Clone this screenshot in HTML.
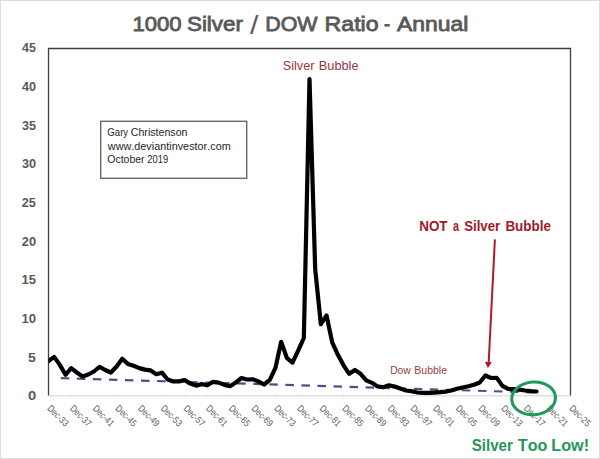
<!DOCTYPE html><html><head><meta charset="utf-8"><style>html,body{margin:0;padding:0;background:#fff;}svg{display:block;}text{font-kerning:none;}</style></head><body>
<svg width="600" height="459" viewBox="0 0 600 459" font-family="'Liberation Sans', Arial, sans-serif">
<rect x="0" y="0" width="600" height="459" fill="#ffffff"/>
<rect x="0.5" y="0.5" width="599" height="458" fill="none" stroke="#dcdcdc" stroke-width="1"/>
<text x="250.00" y="33.50" font-size="25.5" fill="#595959" textLength="8.40" lengthAdjust="spacingAndGlyphs">/</text>
<text x="383.88" y="31.20" font-size="20.0" fill="#595959" textLength="6.14" lengthAdjust="spacingAndGlyphs" stroke="#595959" stroke-width="0.8">-</text>
<text x="132.52" y="30.60" font-size="20.0" fill="#595959" textLength="49.15" lengthAdjust="spacingAndGlyphs" stroke="#595959" stroke-width="0.8">1000</text>
<text x="186.99" y="30.60" font-size="20.0" fill="#595959" textLength="55.89" lengthAdjust="spacingAndGlyphs" stroke="#595959" stroke-width="0.8">Silver</text>
<text x="265.24" y="30.60" font-size="20.0" fill="#595959" textLength="52.33" lengthAdjust="spacingAndGlyphs" stroke="#595959" stroke-width="0.8">DOW</text>
<text x="324.60" y="30.60" font-size="20.0" fill="#595959" textLength="53.97" lengthAdjust="spacingAndGlyphs" stroke="#595959" stroke-width="0.8">Ratio</text>
<text x="396.96" y="30.60" font-size="20.0" fill="#595959" textLength="71.28" lengthAdjust="spacingAndGlyphs" stroke="#595959" stroke-width="0.8">Annual</text>
<line x1="48.5" y1="395.8" x2="570.5" y2="395.8" stroke="#e0e0e0" stroke-width="1.6"/>
<line x1="71.20" y1="396.5" x2="71.20" y2="398.8" stroke="#ececec" stroke-width="1"/>
<line x1="93.89" y1="396.5" x2="93.89" y2="398.8" stroke="#ececec" stroke-width="1"/>
<line x1="116.59" y1="396.5" x2="116.59" y2="398.8" stroke="#ececec" stroke-width="1"/>
<line x1="139.28" y1="396.5" x2="139.28" y2="398.8" stroke="#ececec" stroke-width="1"/>
<line x1="161.98" y1="396.5" x2="161.98" y2="398.8" stroke="#ececec" stroke-width="1"/>
<line x1="184.67" y1="396.5" x2="184.67" y2="398.8" stroke="#ececec" stroke-width="1"/>
<line x1="207.37" y1="396.5" x2="207.37" y2="398.8" stroke="#ececec" stroke-width="1"/>
<line x1="230.07" y1="396.5" x2="230.07" y2="398.8" stroke="#ececec" stroke-width="1"/>
<line x1="252.76" y1="396.5" x2="252.76" y2="398.8" stroke="#ececec" stroke-width="1"/>
<line x1="275.46" y1="396.5" x2="275.46" y2="398.8" stroke="#ececec" stroke-width="1"/>
<line x1="298.15" y1="396.5" x2="298.15" y2="398.8" stroke="#ececec" stroke-width="1"/>
<line x1="320.85" y1="396.5" x2="320.85" y2="398.8" stroke="#ececec" stroke-width="1"/>
<line x1="343.54" y1="396.5" x2="343.54" y2="398.8" stroke="#ececec" stroke-width="1"/>
<line x1="366.24" y1="396.5" x2="366.24" y2="398.8" stroke="#ececec" stroke-width="1"/>
<line x1="388.93" y1="396.5" x2="388.93" y2="398.8" stroke="#ececec" stroke-width="1"/>
<line x1="411.63" y1="396.5" x2="411.63" y2="398.8" stroke="#ececec" stroke-width="1"/>
<line x1="434.33" y1="396.5" x2="434.33" y2="398.8" stroke="#ececec" stroke-width="1"/>
<line x1="457.02" y1="396.5" x2="457.02" y2="398.8" stroke="#ececec" stroke-width="1"/>
<line x1="479.72" y1="396.5" x2="479.72" y2="398.8" stroke="#ececec" stroke-width="1"/>
<line x1="502.41" y1="396.5" x2="502.41" y2="398.8" stroke="#ececec" stroke-width="1"/>
<line x1="525.11" y1="396.5" x2="525.11" y2="398.8" stroke="#ececec" stroke-width="1"/>
<line x1="547.80" y1="396.5" x2="547.80" y2="398.8" stroke="#ececec" stroke-width="1"/>
<line x1="570.50" y1="396.5" x2="570.50" y2="398.8" stroke="#ececec" stroke-width="1"/>
<path d="M48.5,395.5 V48.5 H570.5 V395.5" fill="none" stroke="#404040" stroke-width="1.3"/>
<text x="27.97" y="400.40" font-size="12.9" font-weight="bold" fill="#595959" textLength="8.19" lengthAdjust="spacingAndGlyphs">0</text>
<text x="28.12" y="361.72" font-size="12.9" font-weight="bold" fill="#595959" textLength="7.82" lengthAdjust="spacingAndGlyphs">5</text>
<text x="21.42" y="323.05" font-size="12.9" font-weight="bold" fill="#595959" textLength="14.67" lengthAdjust="spacingAndGlyphs">10</text>
<text x="21.43" y="284.38" font-size="12.9" font-weight="bold" fill="#595959" textLength="14.48" lengthAdjust="spacingAndGlyphs">15</text>
<text x="21.81" y="245.70" font-size="12.9" font-weight="bold" fill="#595959" textLength="14.27" lengthAdjust="spacingAndGlyphs">20</text>
<text x="21.81" y="207.02" font-size="12.9" font-weight="bold" fill="#595959" textLength="14.09" lengthAdjust="spacingAndGlyphs">25</text>
<text x="21.96" y="168.35" font-size="12.9" font-weight="bold" fill="#595959" textLength="14.11" lengthAdjust="spacingAndGlyphs">30</text>
<text x="21.96" y="129.67" font-size="12.9" font-weight="bold" fill="#595959" textLength="13.94" lengthAdjust="spacingAndGlyphs">35</text>
<text x="22.06" y="91.00" font-size="12.9" font-weight="bold" fill="#595959" textLength="14.01" lengthAdjust="spacingAndGlyphs">40</text>
<text x="22.06" y="52.32" font-size="12.9" font-weight="bold" fill="#595959" textLength="13.83" lengthAdjust="spacingAndGlyphs">45</text>
<text transform="translate(47.20,409.4) rotate(45)" x="-0.65" y="0" font-size="9.5" fill="#595959" textLength="25.60" lengthAdjust="spacingAndGlyphs">Dec-33</text>
<text transform="translate(69.90,409.4) rotate(45)" x="-0.65" y="0" font-size="9.5" fill="#595959" textLength="25.65" lengthAdjust="spacingAndGlyphs">Dec-37</text>
<text transform="translate(92.59,409.4) rotate(45)" x="-0.65" y="0" font-size="9.5" fill="#595959" textLength="25.64" lengthAdjust="spacingAndGlyphs">Dec-41</text>
<text transform="translate(115.29,409.4) rotate(45)" x="-0.65" y="0" font-size="9.5" fill="#595959" textLength="25.58" lengthAdjust="spacingAndGlyphs">Dec-45</text>
<text transform="translate(137.98,409.4) rotate(45)" x="-0.65" y="0" font-size="9.5" fill="#595959" textLength="25.63" lengthAdjust="spacingAndGlyphs">Dec-49</text>
<text transform="translate(160.68,409.4) rotate(45)" x="-0.65" y="0" font-size="9.5" fill="#595959" textLength="25.60" lengthAdjust="spacingAndGlyphs">Dec-53</text>
<text transform="translate(183.37,409.4) rotate(45)" x="-0.65" y="0" font-size="9.5" fill="#595959" textLength="25.65" lengthAdjust="spacingAndGlyphs">Dec-57</text>
<text transform="translate(206.07,409.4) rotate(45)" x="-0.65" y="0" font-size="9.5" fill="#595959" textLength="25.64" lengthAdjust="spacingAndGlyphs">Dec-61</text>
<text transform="translate(228.77,409.4) rotate(45)" x="-0.65" y="0" font-size="9.5" fill="#595959" textLength="25.58" lengthAdjust="spacingAndGlyphs">Dec-65</text>
<text transform="translate(251.46,409.4) rotate(45)" x="-0.65" y="0" font-size="9.5" fill="#595959" textLength="25.63" lengthAdjust="spacingAndGlyphs">Dec-69</text>
<text transform="translate(274.16,409.4) rotate(45)" x="-0.65" y="0" font-size="9.5" fill="#595959" textLength="25.60" lengthAdjust="spacingAndGlyphs">Dec-73</text>
<text transform="translate(296.85,409.4) rotate(45)" x="-0.65" y="0" font-size="9.5" fill="#595959" textLength="25.65" lengthAdjust="spacingAndGlyphs">Dec-77</text>
<text transform="translate(319.55,409.4) rotate(45)" x="-0.65" y="0" font-size="9.5" fill="#595959" textLength="25.64" lengthAdjust="spacingAndGlyphs">Dec-81</text>
<text transform="translate(342.24,409.4) rotate(45)" x="-0.65" y="0" font-size="9.5" fill="#595959" textLength="25.58" lengthAdjust="spacingAndGlyphs">Dec-85</text>
<text transform="translate(364.94,409.4) rotate(45)" x="-0.65" y="0" font-size="9.5" fill="#595959" textLength="25.63" lengthAdjust="spacingAndGlyphs">Dec-89</text>
<text transform="translate(387.63,409.4) rotate(45)" x="-0.65" y="0" font-size="9.5" fill="#595959" textLength="25.60" lengthAdjust="spacingAndGlyphs">Dec-93</text>
<text transform="translate(410.33,409.4) rotate(45)" x="-0.65" y="0" font-size="9.5" fill="#595959" textLength="25.65" lengthAdjust="spacingAndGlyphs">Dec-97</text>
<text transform="translate(433.03,409.4) rotate(45)" x="-0.65" y="0" font-size="9.5" fill="#595959" textLength="25.64" lengthAdjust="spacingAndGlyphs">Dec-01</text>
<text transform="translate(455.72,409.4) rotate(45)" x="-0.65" y="0" font-size="9.5" fill="#595959" textLength="25.58" lengthAdjust="spacingAndGlyphs">Dec-05</text>
<text transform="translate(478.42,409.4) rotate(45)" x="-0.65" y="0" font-size="9.5" fill="#595959" textLength="25.63" lengthAdjust="spacingAndGlyphs">Dec-09</text>
<text transform="translate(501.11,409.4) rotate(45)" x="-0.65" y="0" font-size="9.5" fill="#595959" textLength="25.60" lengthAdjust="spacingAndGlyphs">Dec-13</text>
<text transform="translate(523.81,409.4) rotate(45)" x="-0.65" y="0" font-size="9.5" fill="#595959" textLength="25.65" lengthAdjust="spacingAndGlyphs">Dec-17</text>
<text transform="translate(546.50,409.4) rotate(45)" x="-0.65" y="0" font-size="9.5" fill="#595959" textLength="25.64" lengthAdjust="spacingAndGlyphs">Dec-21</text>
<text transform="translate(569.20,409.4) rotate(45)" x="-0.65" y="0" font-size="9.5" fill="#595959" textLength="25.58" lengthAdjust="spacingAndGlyphs">Dec-25</text>
<line x1="60.5" y1="378.1" x2="536" y2="392.5" stroke="#5e4884" stroke-width="2.2" stroke-dasharray="8.5 7.55" stroke-dashoffset="-0.3"/>
<clipPath id="pc"><rect x="48.5" y="0" width="522" height="459"/></clipPath>
<polyline clip-path="url(#pc)" points="48.50,361.00 54.17,356.90 59.85,364.90 65.52,374.80 71.20,368.20 76.87,372.50 82.54,376.50 88.22,374.50 93.89,371.50 99.57,366.80 105.24,370.00 110.91,372.50 116.59,366.50 122.26,358.70 127.93,364.10 133.61,365.80 139.28,368.10 144.96,369.60 150.63,370.40 156.30,374.20 161.98,372.70 167.65,379.50 173.33,381.40 179.00,381.40 184.67,380.10 190.35,383.60 196.02,385.60 201.70,384.10 207.37,385.30 213.04,381.80 218.72,382.60 224.39,384.90 230.07,386.20 235.74,382.60 241.41,378.00 247.09,379.50 252.76,379.30 258.43,381.40 264.11,384.50 269.78,379.90 275.46,367.90 281.13,341.80 286.80,357.80 292.48,362.60 298.15,350.70 303.83,338.00 309.50,79.00 315.17,268.80 320.85,324.20 326.52,315.50 332.20,342.40 337.87,354.80 343.54,365.30 349.22,373.80 354.89,369.90 360.57,373.80 366.24,380.30 371.91,382.80 377.59,386.40 383.26,387.30 388.93,385.30 394.61,386.60 400.28,388.60 405.96,390.50 411.63,391.20 417.30,392.50 422.98,392.90 428.65,392.90 434.33,392.60 440.00,392.20 445.67,391.60 451.35,390.50 457.02,388.80 462.70,387.50 468.37,386.30 474.04,384.80 479.72,382.50 485.39,375.50 491.07,378.00 496.74,377.90 502.41,385.90 508.09,388.90 513.76,389.20 519.43,389.60 525.11,390.50 530.78,391.10 536.46,391.50" fill="none" stroke="#000" stroke-width="4.2" stroke-linejoin="round" stroke-linecap="round"/>
<rect x="100.75" y="121.25" width="146" height="57" fill="#fff" stroke="#4a4a4a" stroke-width="1.15"/>
<text x="107.31" y="135.50" font-size="10.4" fill="#262626" textLength="20.90" lengthAdjust="spacingAndGlyphs">Gary</text>
<text x="130.76" y="135.50" font-size="10.4" fill="#262626" textLength="56.73" lengthAdjust="spacingAndGlyphs">Christenson</text>
<text x="107.82" y="149.50" font-size="10.4" fill="#262626" textLength="122.90" lengthAdjust="spacingAndGlyphs">www.deviantinvestor.com</text>
<text x="107.30" y="163.10" font-size="10.4" fill="#262626" textLength="37.27" lengthAdjust="spacingAndGlyphs">October</text>
<text x="147.33" y="163.10" font-size="10.4" fill="#262626" textLength="20.81" lengthAdjust="spacingAndGlyphs">2019</text>
<text x="282.83" y="70.00" font-size="12.8" fill="#9c3440" textLength="31.58" lengthAdjust="spacingAndGlyphs">Silver</text>
<text x="318.75" y="70.00" font-size="12.8" fill="#9c3440" textLength="39.82" lengthAdjust="spacingAndGlyphs">Bubble</text>
<text x="419.31" y="230.80" font-size="14.4" font-weight="bold" fill="#a01a2a" textLength="28.24" lengthAdjust="spacingAndGlyphs">NOT</text>
<text x="452.89" y="230.80" font-size="14.4" font-weight="bold" fill="#a01a2a" textLength="5.95" lengthAdjust="spacingAndGlyphs">a</text>
<text x="464.22" y="230.80" font-size="14.4" font-weight="bold" fill="#a01a2a" textLength="35.98" lengthAdjust="spacingAndGlyphs">Silver</text>
<text x="505.40" y="230.80" font-size="14.4" font-weight="bold" fill="#a01a2a" textLength="45.56" lengthAdjust="spacingAndGlyphs">Bubble</text>
<text x="390.15" y="373.80" font-size="10.1" fill="#9a3c46" textLength="20.72" lengthAdjust="spacingAndGlyphs">Dow</text>
<text x="414.24" y="373.80" font-size="10.1" fill="#9a3c46" textLength="32.83" lengthAdjust="spacingAndGlyphs">Bubble</text>
<line x1="494.9" y1="239.4" x2="488.7" y2="362" stroke="#b01a2a" stroke-width="2"/>
<polygon points="484.9,361.8 491.8,362.2 487.9,368" fill="#c01020"/>
<ellipse cx="533.6" cy="398.4" rx="21.9" ry="16.4" transform="rotate(-4 533.6 398.4)" fill="none" stroke="#1f9a5c" stroke-width="3.1"/>
<text x="471.76" y="450.90" font-size="15.8" font-weight="bold" fill="#289459" textLength="41.16" lengthAdjust="spacingAndGlyphs">Silver</text>
<text x="517.82" y="450.90" font-size="15.8" font-weight="bold" fill="#289459" textLength="29.61" lengthAdjust="spacingAndGlyphs">Too</text>
<text x="551.32" y="450.90" font-size="15.8" font-weight="bold" fill="#289459" textLength="37.83" lengthAdjust="spacingAndGlyphs">Low!</text>
</svg></body></html>
